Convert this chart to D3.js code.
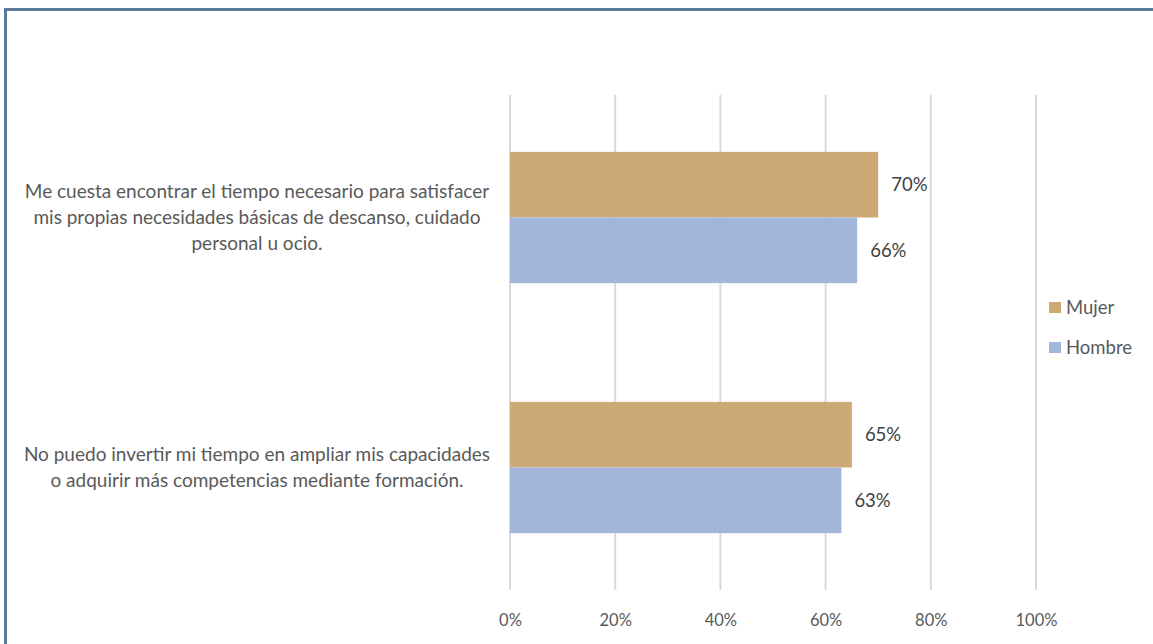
<!DOCTYPE html>
<html><head><meta charset="utf-8">
<script src="https://cdn.jsdelivr.net/npm/d3@7"></script>
<style>body{margin:0;background:#fff;}svg{display:block;font-family:Lato,"Open Sans",sans-serif;}</style>
</head><body>
<svg id="c" width="1153" height="644"></svg>
<script>
const categories = [
  ["Me cuesta encontrar el tiempo necesario para satisfacer","mis propias necesidades básicas de descanso, cuidado","personal u ocio."],
  ["No puedo invertir mi tiempo en ampliar mis capacidades","o adquirir más competencias mediante formación."]
];
const seriesNames = ["Mujer","Hombre"];
const mujer = [0.70, 0.65];
const hombre = [0.66, 0.63];
const tickValues = [0,0.2,0.4,0.6,0.8,1.0];
const colors = ["#CDAA75","#A2B5DB"];

const svg = d3.select("#c");
// frame
svg.append("path").attr("d","M5.5,644 V9.5 H1153").attr("fill","none").attr("stroke","#5B7A9B").attr("stroke-width",3);

const x = d3.scaleLinear().domain([0,1]).range([510,1036]);
const y = d3.scaleBand().domain(d3.range(categories.length)).range([95,590]).paddingInner(0.475).paddingOuter(0.2275);
const ySub = d3.scaleBand().domain([0,1]).range([0,y.bandwidth()]);

// gridlines
svg.append("g").selectAll("line").data(tickValues).join("line")
  .attr("x1",d=>x(d)).attr("x2",d=>x(d)).attr("y1",95).attr("y2",590)
  .attr("stroke","#D9D9D9").attr("stroke-width",2);

// axis labels
const ax = svg.append("g").attr("transform","translate(0,590)")
  .call(d3.axisBottom(x).tickValues(tickValues).tickFormat(d3.format(".0%")).tickSize(0).tickPadding(24));
ax.select(".domain").remove();
ax.selectAll("text").attr("fill","#595959").attr("font-size",16.5).attr("font-family","Lato,'Open Sans',sans-serif");

const data = [mujer, hombre];
data.forEach((vals,si)=>{
  const g = svg.append("g");
  g.selectAll("rect").data(vals).join("rect")
    .attr("x",x(0)).attr("y",(d,i)=>y(i)+ySub(si))
    .attr("width",d=>x(d)-x(0)).attr("height",ySub.bandwidth())
    .attr("fill",colors[si]);
  g.selectAll("text").data(vals).join("text")
    .attr("x",d=>x(d)+13).attr("y",(d,i)=>y(i)+ySub(si)+ySub.bandwidth()/2)
    .attr("dy","0.35em").attr("fill","#404040").attr("font-size",18.5)
    .text(d=>d3.format(".0%")(d));
});

// category labels
categories.forEach((lines,i)=>{
  const cy = y(i)+y.bandwidth()/2;
  const lh = 26;
  const t = svg.append("text").attr("text-anchor","middle").attr("fill","#595959").attr("font-size",19);
  lines.forEach((l,k)=>{
    t.append("tspan").attr("x",257).attr("y",cy+(k-(lines.length-1)/2)*lh).attr("dy","0.35em").text(l);
  });
});

// legend
const lg = svg.append("g");
seriesNames.forEach((n,i)=>{
  const yy = 308 + i*40;
  lg.append("rect").attr("x",1049).attr("y",yy-6).attr("width",12).attr("height",11).attr("fill",colors[i]);
  lg.append("text").attr("x",1066).attr("y",yy).attr("dy","0.35em").attr("fill","#595959").attr("font-size",18.5).text(n);
});
</script>
</body></html>
